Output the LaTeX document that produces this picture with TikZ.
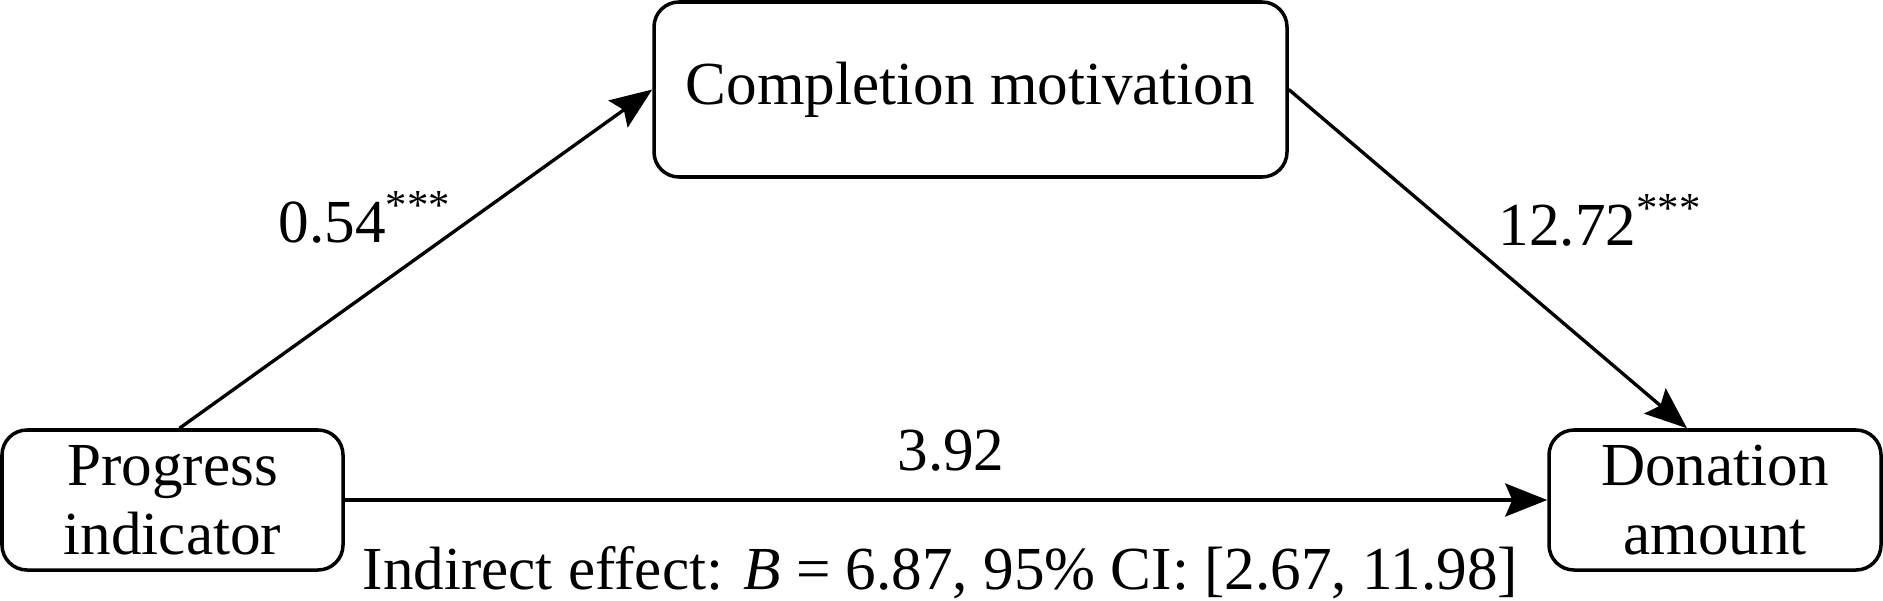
\documentclass[tikz,border=0pt]{standalone}
\usepackage{fontspec}
\setmainfont{Liberation Serif}
\usetikzlibrary{arrows.meta}
\tikzset{
    every node/.style = {font=\fontsize{17.4}{19.6}\selectfont, inner sep=0pt},
    varbox/.style = {draw, rounded corners=0.25cm, line width=1pt, align=center},
    path arrow/.style = {line width=0.95pt, -{Stealth[length=0.42cm, width=0.33cm, inset=0.07cm]}}
}
\begin{document}
\begin{tikzpicture}
        \useasboundingbox (0,0) rectangle (18.83,6);
        \node[varbox, minimum width=3.41cm, minimum height=1.40cm] (prog) at (1.725,1.0) {Progress\\indicator};
        \node[varbox, minimum width=6.33cm, minimum height=1.75cm] (comp) at (9.705,5.105) {Completion motivation};
        \node[varbox, minimum width=3.32cm, minimum height=1.40cm] (don) at (17.15,1.0) {Donation\\amount};

        \draw[path arrow] ([xshift=0.07cm]prog.north) -- (comp.west);
        \draw[path arrow] (comp.east) -- ([xshift=-0.28cm]don.north);
        \draw[path arrow] (prog.east) -- (don.west);

        \node[anchor=base west] (a) at (2.78,3.58) {0.54\textsuperscript{***}};
        \node[anchor=base west] (b) at (14.98,3.55) {12.72\textsuperscript{***}};
        \node[anchor=base] (c) at (9.51,1.30) {3.92};
        \node[anchor=base west] (ind) at (3.62,0.11) {Indirect effect: \textit{B} = 6.87, 95\% CI: [2.67, 11.98]};
\end{tikzpicture}
\end{document}
